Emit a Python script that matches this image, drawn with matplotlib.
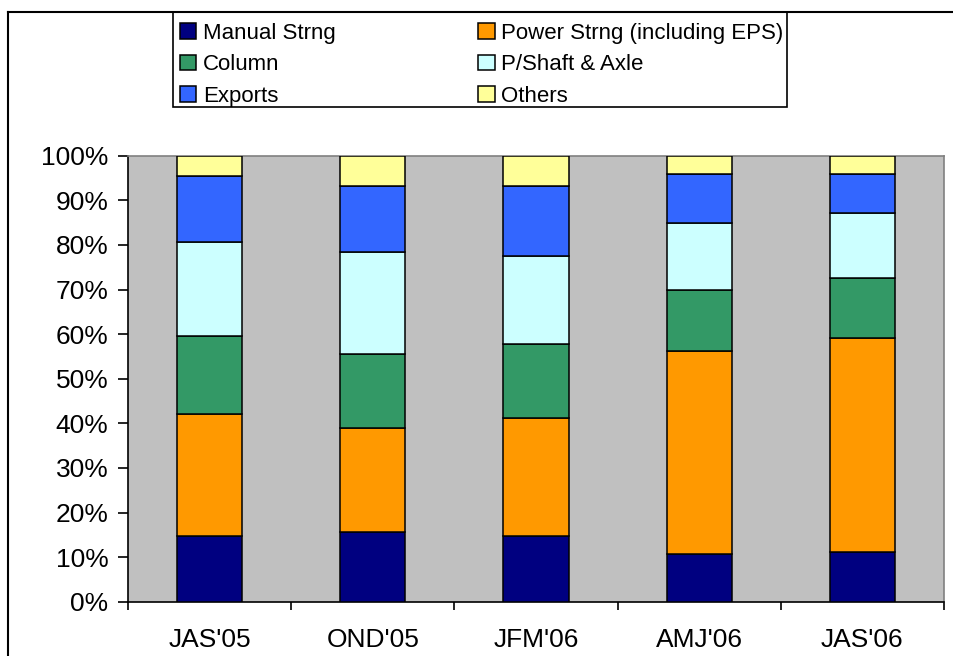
import matplotlib
matplotlib.use("Agg")
import matplotlib.pyplot as plt
from matplotlib.lines import Line2D
from matplotlib.patches import Rectangle
import numpy as np

plt.rcParams['font.family'] = ['Liberation Sans', 'DejaVu Sans']

categories = ["JAS'05", "OND'05", "JFM'06", "AMJ'06", "JAS'06"]
series_names = ["Manual Strng", "Power Strng (including EPS)", "Column",
                "P/Shaft & Axle", "Exports", "Others"]
manual = [14.8, 15.7, 14.8, 10.8, 11.1]
power = [27.3, 23.3, 26.5, 45.3, 48.0]
column = [17.5, 16.6, 16.5, 13.9, 13.5]
pshaft = [21.1, 22.9, 19.8, 14.8, 14.5]
exports = [14.8, 14.8, 15.7, 11.2, 8.9]
others = [4.5, 6.7, 6.7, 4.0, 4.0]
colors = ["#000080", "#FF9900", "#339966", "#CCFFFF", "#3366FF", "#FFFF99"]
yticks = [0, 10, 20, 30, 40, 50, 60, 70, 80, 90, 100]

W, H = 954, 656
fig = plt.figure(figsize=(W / 100, H / 100), dpi=100)
ax = fig.add_axes([128 / W, 1 - 601.7 / H, (944 - 128) / W, (601.7 - 155.7) / H])
ax.set_facecolor("#C0C0C0")

data = np.array([manual, power, column, pshaft, exports, others], dtype=float)
totals = data.sum(axis=0)
pct = data / totals * 100
x = np.arange(len(categories))
bottom = np.zeros(len(categories))
handles = []
for name, vals, c in zip(series_names, pct, colors):
    b = ax.bar(x, vals, width=0.4, bottom=bottom, color=c, edgecolor="black",
               linewidth=1.1, label=name, zorder=3)
    handles.append(b)
    bottom += vals

ax.set_xlim(-0.5, len(categories) - 0.5)
ax.set_ylim(0, 100)
ax.set_yticks(yticks)
ax.set_yticklabels([f"{v}%" for v in yticks], fontsize=19)
ax.set_xticks(x)
ax.set_xticklabels(categories, fontsize=19)
ax.set_xticks(np.arange(-0.5, len(categories)), minor=True)
ax.tick_params(axis='x', which='major', length=0, pad=19)
ax.tick_params(axis='x', which='minor', length=6, width=1.2, direction='out')
ax.tick_params(axis='y', length=7, width=1.2, direction='out', pad=7)

for s in ['left', 'bottom']:
    ax.spines[s].set_color('black')
    ax.spines[s].set_linewidth(1.2)
for s in ['top', 'right']:
    ax.spines[s].set_color('#808080')
    ax.spines[s].set_linewidth(1.2)

# legend ordering: row-wise in reference, matplotlib fills column-wise
order = [0, 2, 4, 1, 3, 5]
leg = fig.legend([handles[i] for i in order], [series_names[i] for i in order],
                 ncol=2, loc='upper left', bbox_to_anchor=(173 / W, 1 - 16 / H),
                 fontsize=16, frameon=False,
                 handlelength=0.75, handleheight=0.7,
                 handletextpad=0.3, columnspacing=6.4, labelspacing=0.48,
                 borderpad=0.3, borderaxespad=0)
# legend frame
fig.add_artist(Rectangle((173 / W, 1 - 107 / H), (787 - 173) / W, (107 - 12) / H,
                         transform=fig.transFigure, fill=False,
                         edgecolor='black', linewidth=1.2))

# outer chart frame (left and top edges visible)
fig.add_artist(Line2D([8 / W, 8 / W], [0, 1 - 12 / H], transform=fig.transFigure,
                      color='black', linewidth=1.5))
fig.add_artist(Line2D([8 / W, 1], [1 - 12 / H, 1 - 12 / H], transform=fig.transFigure,
                      color='black', linewidth=1.5))

fig.savefig("out.png", dpi=100)
